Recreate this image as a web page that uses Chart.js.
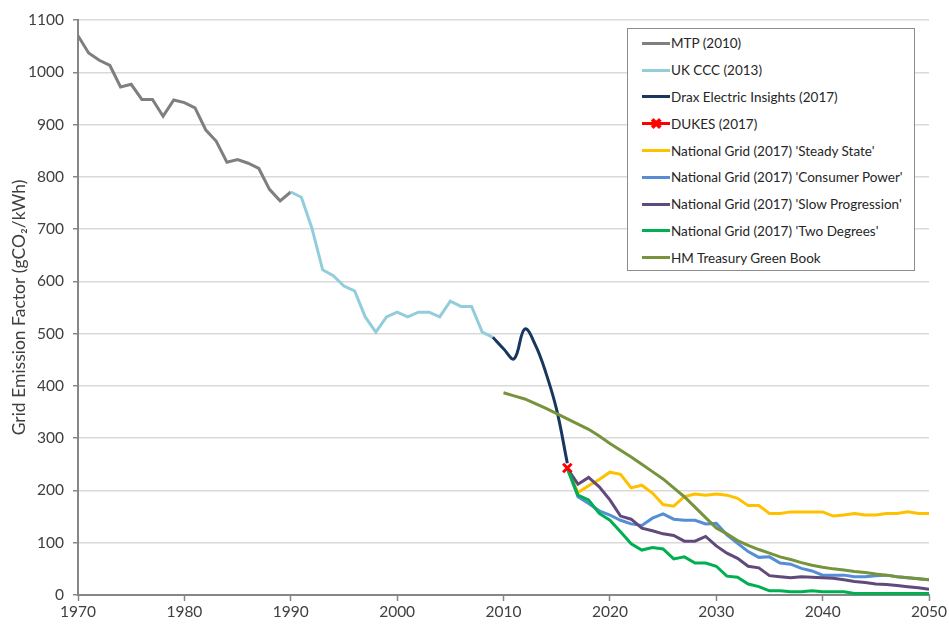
<!DOCTYPE html>
<html>
<head>
<meta charset="utf-8">
<script src="https://cdn.jsdelivr.net/npm/chart.js@4"></script>
<style>
    body { margin: 0; background: #fff; font-family: Lato, "Open Sans", sans-serif; }
    #wrap { position: relative; width: 949px; height: 624px; }
    #legendBox {
        position: absolute; left: 627px; top: 28px; width: 288px; height: 243px;
        border: 1px solid #8c8c8c; background: #fff; box-sizing: border-box; padding-top: 1px;
    }
    .leg-item { display: flex; align-items: center; height: 26.8px; font-size: 13.5px; color: #262626; white-space: nowrap; }
    .leg-line { position: relative; width: 28px; height: 3px; margin-left: 14px; margin-right: 1px; }
    .leg-mark { position: absolute; left: 8px; top: -8px; font-size: 15px; font-weight: bold; line-height: 18px; color: #ff0000; }
</style>
</head>
<body>
<div id="wrap">
    <canvas id="chart" width="949" height="624"></canvas>
    <div id="legendBox"></div>
</div>
<script>
// data (gCO2/kWh per year)
const mtpStart = 1970;
const mtpValues = [1070, 1037, 1023, 1013, 972, 977, 948, 948, 916, 947, 942, 932, 890, 868, 828, 833, 826, 816, 776, 754, 771];

const cccStart = 1990;
const cccValues = [771, 761, 701, 622, 611, 591, 582, 532, 503, 532, 541, 532, 541, 541, 532, 562, 552, 552, 503, 493];

const draxStart = 2009;
const draxValues = [493, 471, 452, 509, 478, 424, 354, 252];

const dukesStart = 2016;
const dukesValues = [243];

const ngStart = 2016;
const steadyState = [242, 196, 209, 221, 235, 231, 205, 210, 195, 173, 170, 188, 193, 191, 193, 191, 185, 171, 171, 156,
    156, 159, 159, 159, 159, 151, 153, 156, 153, 153, 156, 156, 159, 156, 156];
const consumerPower = [242, 188, 175, 161, 153, 143, 136, 133, 147, 155, 145, 143, 143, 136, 137, 115, 99, 83, 72, 73,
    61, 59, 51, 46, 38, 38, 38, 35, 35, 37, 38, 35, 33, 31, 29];
const slowProgression = [242, 212, 225, 207, 182, 151, 145, 128, 123, 117, 114, 103, 103, 112, 94, 80, 70, 55, 52, 37,
    35, 33, 35, 34, 33, 32, 29, 26, 24, 21, 20, 18, 16, 14, 11];
const twoDegrees = [242, 191, 182, 156, 143, 121, 98, 86, 91, 88, 69, 73, 61, 61, 55, 36, 34, 21, 16, 8,
    8, 6, 6, 8, 6, 6, 6, 3, 3, 3, 3, 3, 3, 3, 3];

const greenBookStart = 2010;
const greenBook = [387, 381, 375, 366, 357, 347, 337, 327, 317, 304, 290, 277, 264, 250, 236, 222, 205, 188, 168, 148,
    128, 117, 104, 95, 87, 80, 73, 68, 62, 57, 53, 50, 48, 45, 43, 40, 38, 35, 33, 31, 29];

const yTicks = [0, 100, 200, 300, 400, 500, 600, 700, 800, 900, 1000, 1100];
const xTicks = [1970, 1980, 1990, 2000, 2010, 2020, 2030, 2040, 2050];

const toPoints = (start, values) => values.map((v, i) => ({ x: start + i, y: v }));

const series = [
    { label: "MTP (2010)", start: mtpStart, values: mtpValues, color: "#7f7f7f" },
    { label: "UK CCC (2013)", start: cccStart, values: cccValues, color: "#92cddc" },
    { label: "Drax Electric Insights (2017)", start: draxStart, values: draxValues, color: "#17375e", tension: 0.4 },
    { label: "DUKES (2017)", start: dukesStart, values: dukesValues, color: "#ff0000", marker: true },
    { label: "National Grid (2017) 'Steady State'", start: ngStart, values: steadyState, color: "#ffc000" },
    { label: "National Grid (2017) 'Consumer Power'", start: ngStart, values: consumerPower, color: "#558ed5" },
    { label: "National Grid (2017) 'Slow Progression'", start: ngStart, values: slowProgression, color: "#604a7b" },
    { label: "National Grid (2017) 'Two Degrees'", start: ngStart, values: twoDegrees, color: "#00b050" },
    { label: "HM Treasury Green Book", start: greenBookStart, values: greenBook, color: "#77933c" }
];

const datasets = series.map((s, i) => ({
    label: s.label,
    data: toPoints(s.start, s.values),
    borderColor: s.color,
    backgroundColor: s.color,
    borderWidth: 3,
    tension: s.tension || 0,
    pointRadius: s.marker ? 6 : 0,
    pointStyle: s.marker ? "crossRot" : "circle",
    pointBorderWidth: s.marker ? 3 : 0,
    order: s.marker ? -1 : 10 - i
}));

const axisGrey = "#868686";
const textColor = "#404040";
const font = { family: "Lato, 'Open Sans', sans-serif", size: 15.5 };

new Chart(document.getElementById("chart"), {
    type: "line",
    data: { datasets: datasets },
    options: {
        responsive: false,
        animation: false,
        layout: { padding: { top: 20, right: 18, left: 0, bottom: 0 } },
        plugins: { legend: { display: false }, tooltip: { enabled: false } },
        scales: {
            x: {
                type: "linear",
                min: 1970,
                max: 2050,
                afterBuildTicks: axis => { axis.ticks = xTicks.map(v => ({ value: v })); },
                afterFit: axis => { axis.height = 29; },
                ticks: { color: textColor, font: font, padding: 2, maxRotation: 0, callback: v => String(v) },
                grid: { drawOnChartArea: false, tickLength: 6, tickColor: axisGrey, tickWidth: 1.5 },
                border: { color: axisGrey, width: 2 }
            },
            y: {
                min: 0,
                max: 1100,
                afterBuildTicks: axis => { axis.ticks = yTicks.map(v => ({ value: v })); },
                afterFit: axis => { axis.width = 78; },
                ticks: { color: textColor, font: font, padding: 9, callback: v => String(v) },
                grid: { color: "#d9d9d9", lineWidth: 1.5, tickLength: 5, tickColor: axisGrey },
                border: { color: axisGrey, width: 2 },
                title: {
                    display: true,
                    text: "Grid Emission Factor (gCO\u2082/kWh)",
                    color: textColor,
                    font: { family: font.family, size: 17.5 },
                    padding: { top: 9, bottom: 0 }
                }
            }
        }
    }
});

// legend
const legendBox = document.getElementById("legendBox");
legendBox.innerHTML = series.map(s => `
    <div class="leg-item">
        <span class="leg-line" style="background:${s.color}">${s.marker ? '<span class="leg-mark">\u2716</span>' : ''}</span>
        <span>${s.label}</span>
    </div>
`).join('');
</script>
</body>
</html>
